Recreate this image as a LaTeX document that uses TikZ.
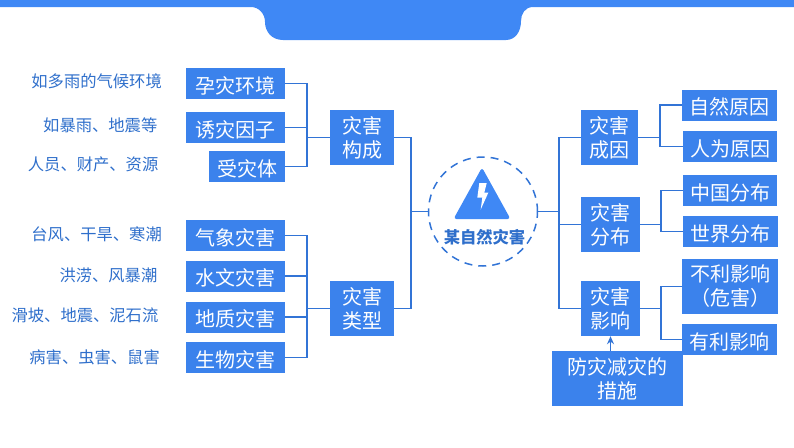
\documentclass[tikz,border=0pt]{standalone}
\usepackage{fontspec}
\setmainfont{Noto Sans CJK SC}
\usepackage{tikz}
\usetikzlibrary{arrows.meta,positioning,calc}
\definecolor{bandblue}{HTML}{3F88F5}
\definecolor{boxblue}{HTML}{3B82EC}
\definecolor{linkblue}{HTML}{3274D6}
\definecolor{notecol}{HTML}{2F6FCB}
\tikzset{
 catbox/.style={fill=boxblue,text=white,inner sep=0pt,align=center,font=\fontsize{20}{24}\selectfont,execute at begin node={\rule{0pt}{21pt}}},
 twoline/.style={catbox,minimum height=55,execute at begin node={\rule{0pt}{23pt}}},
 note/.style={anchor=east,inner sep=0pt,text=notecol,font=\fontsize{16.3}{20}\selectfont},
 link/.style={draw=linkblue,line width=1.4pt},
}

\begin{document}
\begin{tikzpicture}[x=1pt,y=-1pt,>=Stealth]
 \useasboundingbox (0,0) rectangle (794,447);
 \fill[bandblue] (0,0)--(794,0)--(794,7)--(533,7) .. controls (525,7) and (521,14) .. (521,21) .. controls (521,32) and (515,40) .. (506,40)--(283,40) .. controls (272,40) and (265,32) .. (265,22) .. controls (265,14) and (259,7) .. (251,7)--(0,7)--cycle;
 % left side
 \node[catbox,minimum width=99,minimum height=31] (yunzai) at (235.5,83.5){孕灾环境};
 \node[catbox,minimum width=99,minimum height=31] (youzai) at (235.5,127.5){诱灾因子};
 \node[catbox,minimum width=76,minimum height=31] (shouzai) at (247,166.5){受灾体};
 \node[twoline,minimum width=64] (goucheng) at (362,137.5){灾害\\构成};
 \node[catbox,minimum width=99,minimum height=31] (qixiang) at (235.5,235.5){气象灾害};
 \node[catbox,minimum width=99,minimum height=31] (shuiwen) at (235.5,276){水文灾害};
 \node[catbox,minimum width=99,minimum height=31] (dizhi) at (235.5,317){地质灾害};
 \node[catbox,minimum width=99,minimum height=31] (shengwu) at (235.5,357.5){生物灾害};
 \node[twoline,minimum width=64] (leixing) at (362,308.5){灾害\\类型};
 \node[note] (n1) at (162,81){如多雨的气候环境};
 \node[note] (n2) at (157.5,125){如暴雨、地震等};
 \node[note] (n3) at (158.5,164){人员、财产、资源};
 \node[note] (n4) at (162,234){台风、干旱、寒潮};
 \node[note] (n5) at (157.5,275){洪涝、风暴潮};
 \node[note] (n6) at (158.5,315){滑坡、地震、泥石流};
 \node[note] (n7) at (160,357){病害、虫害、鼠害};
 % centre
 \node[circle,draw=linkblue,line width=1.5pt,dash pattern=on 8pt off 6pt,minimum size=109,inner sep=0pt] (hub) at (483,211.5){};
 \fill[bandblue,rounded corners=3pt] (482,167.5)--(510.5,219)--(453.5,219)--cycle;
 \fill[white] (479.3,183)--(486.7,183)--(484.3,192.7)--(488.3,192.7)--(480.7,209.5)--(482.3,197.7)--(477.3,197.7)--cycle;
 \node[inner sep=0pt,text=notecol,font=\fontsize{16.3}{20}\selectfont\bfseries] (hubname) at (484.5,237){某自然灾害};
 % right side
 \node[twoline,minimum width=57] (chengyin) at (609.5,137.5){灾害\\成因};
 \node[twoline,minimum width=59] (fenbu) at (610.5,224.5){灾害\\分布};
 \node[twoline,minimum width=59] (yingxiang) at (610.5,308.5){灾害\\影响};
 \node[catbox,minimum width=95,minimum height=31] (ziran) at (729.5,105){自然原因};
 \node[catbox,minimum width=94,minimum height=31] (renwei) at (730,146.5){人为原因};
 \node[catbox,minimum width=94,minimum height=31] (zhongguo) at (730,190.5){中国分布};
 \node[catbox,minimum width=95,minimum height=31] (shijie) at (730.5,231.5){世界分布};
 \node[twoline,minimum width=96] (buli) at (730,286.5){不利影响\\（危害）};
 \node[catbox,minimum width=95,minimum height=31] (youli) at (729.5,339.5){有利影响};
 \node[twoline,minimum width=131] (cuoshi) at (617.5,378.5){防灾减灾的\\措施};
 % connectors
 \coordinate (lbusa) at (307,137.5);
 \coordinate (lbusb) at (307,308.5);
 \coordinate (lmain) at (411,211.5);
 \coordinate (rmain) at (559,211.5);
 \coordinate (rbusa) at (660,137.5);
 \coordinate (rbusb) at (661,224.5);
 \coordinate (rbusc) at (661,308.5);
 \draw[link] (yunzai.east) -| (lbusa);
 \draw[link] (youzai.east) -| (lbusa);
 \draw[link] (shouzai.east) -| (lbusa);
 \draw[link] (lbusa)--(goucheng.west);
 \draw[link] (qixiang.east) -| (lbusb);
 \draw[link] (shuiwen.east) -| (lbusb);
 \draw[link] (dizhi.east) -| (lbusb);
 \draw[link] (shengwu.east) -| (lbusb);
 \draw[link] (lbusb)--(leixing.west);
 \draw[link] (goucheng.east) -| (lmain);
 \draw[link] (leixing.east) -| (lmain);
 \draw[link] (lmain)--(hub.west);
 \draw[link] (hub.east)--(rmain);
 \draw[link] (chengyin.west) -| (rmain);
 \draw[link] (fenbu.west) -| (rmain);
 \draw[link] (yingxiang.west) -| (rmain);
 \draw[link] (chengyin.east)--(rbusa);
 \draw[link] (ziran.west) -| (rbusa);
 \draw[link] (renwei.west) -| (rbusa);
 \draw[link] (fenbu.east)--(rbusb);
 \draw[link] (zhongguo.west) -| (rbusb);
 \draw[link] (shijie.west) -| (rbusb);
 \draw[link] (yingxiang.east)--(rbusc);
 \draw[link] (buli.west) -| (rbusc);
 \draw[link] (youli.west) -| (rbusc);
 \draw[link,-{Stealth[length=8pt,width=7pt]}] (cuoshi.north -| yingxiang.south)--(yingxiang.south);
\end{tikzpicture}
\end{document}
